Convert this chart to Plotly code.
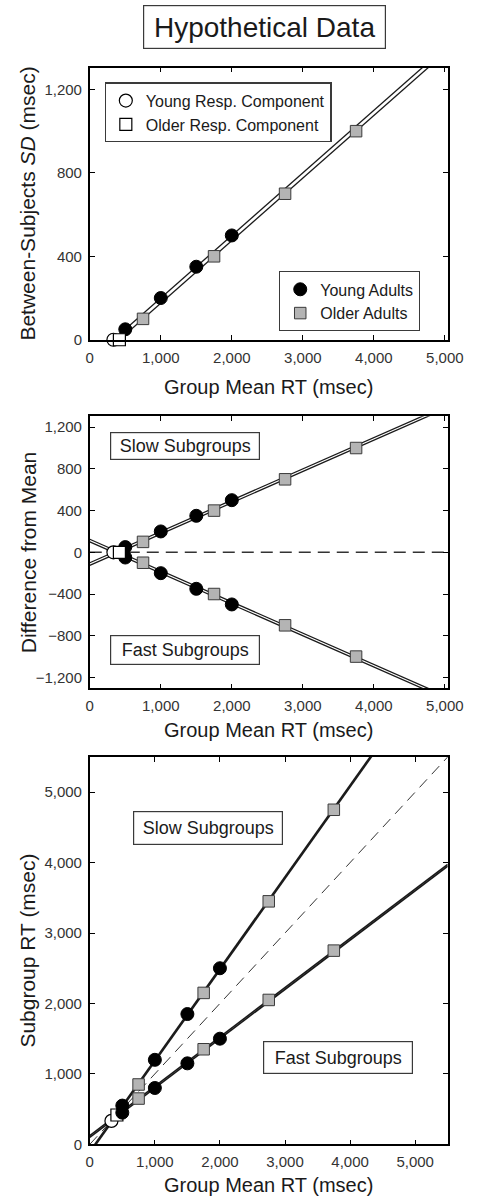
import numpy as np
import plotly.graph_objects as go

# ---- data -------------------------------------------------------------
# response-component RTs (point where between-subjects SD reaches zero)
young_comp_rt = [333]
older_comp_rt = [417]

# group mean RTs and between-subjects SDs
young_rt = [500, 1000, 1500, 2000]
young_sd = [50, 200, 350, 500]
older_rt = [750, 1750, 2750, 3750]
older_sd = [100, 400, 700, 1000]

# subgroup mean RTs (slow = mean + SD, fast = mean - SD)
young_slow = [550, 1200, 1850, 2500]
young_fast = [450, 800, 1150, 1500]
older_slow = [850, 2150, 3450, 4750]
older_fast = [650, 1350, 2050, 2750]

x_ticks_top = [0, 1000, 2000, 3000, 4000, 5000]
y_ticks_sd = [0, 400, 800, 1200]
y_ticks_diff = [-1200, -800, -400, 0, 400, 800, 1200]
y_ticks_rt = [0, 1000, 2000, 3000, 4000, 5000]

# ---- derived quantities ----------------------------------------------
young_diff_slow = np.subtract(young_slow, young_rt)
young_diff_fast = np.subtract(young_fast, young_rt)
older_diff_slow = np.subtract(older_slow, older_rt)
older_diff_fast = np.subtract(older_fast, older_rt)

# linear SD-vs-RT functions through the component point and group points
young_fit = np.polyfit(young_comp_rt + young_rt, [0] + young_sd, 1)
older_fit = np.polyfit(older_comp_rt + older_rt, [0] + older_sd, 1)
line_x = np.array([0.0, 5500.0])
young_line = np.polyval(young_fit, line_x)
older_line = np.polyval(older_fit, line_x)

# ---- styles ----------------------------------------------------------
FONT = "Liberation Sans, Arial, sans-serif"
INK = "#1a1a1a"
GRAY_FILL = "#b4b4b4"
LINE_W = 1.3

young_marker = dict(symbol="circle", size=13, color="black",
                    line=dict(color="black", width=1))
older_marker = dict(symbol="square", size=11.5, color=GRAY_FILL,
                    line=dict(color="#3a3a3a", width=1))
young_comp_marker = dict(symbol="circle", size=13, color="white",
                         line=dict(color="black", width=1.2))
older_comp_marker = dict(symbol="square", size=12, color="white",
                         line=dict(color="black", width=1.2))

W, H = 480, 1204
X0, X1 = 89.5 / W, 463 / W


def ydom(top_px, bot_px):
    return [1 - bot_px / H, 1 - top_px / H]


fig = go.Figure()


def line(x, y, ax, width=LINE_W, color=INK, dash=None):
    fig.add_trace(go.Scatter(
        x=x, y=y, mode="lines", xaxis=ax[0], yaxis=ax[1],
        line=dict(color=color, width=width, dash=dash),
        showlegend=False, hoverinfo="skip"))


def pts(x, y, ax, marker, name=None, legend=None):
    fig.add_trace(go.Scatter(
        x=x, y=y, mode="markers", xaxis=ax[0], yaxis=ax[1],
        marker=marker, name=name or "", showlegend=legend is not None,
        legend=legend or "legend", cliponaxis=False))


# ---- panel 1: between-subjects SD ------------------------------------
ax1 = ("x", "y")
line(line_x, young_line, ax1)
line(line_x, older_line, ax1)
pts(young_rt, young_sd, ax1, young_marker, "Young Adults", "legend2")
pts(older_rt, older_sd, ax1, older_marker, "Older Adults", "legend2")
pts(young_comp_rt, [0], ax1, young_comp_marker, "Young Resp. Component", "legend")
pts(older_comp_rt, [0], ax1, older_comp_marker, "Older Resp. Component", "legend")

# ---- panel 2: difference from mean -----------------------------------
ax2 = ("x2", "y2")
line(line_x, young_line, ax2)
line(line_x, older_line, ax2)
line(line_x, -young_line, ax2)
line(line_x, -older_line, ax2)
pts(young_rt, young_diff_slow, ax2, young_marker)
pts(young_rt, young_diff_fast, ax2, young_marker)
pts(older_rt, older_diff_slow, ax2, older_marker)
pts(older_rt, older_diff_fast, ax2, older_marker)
pts(young_comp_rt, [0], ax2, young_comp_marker)
pts(older_comp_rt, [0], ax2, older_comp_marker)
fig.add_shape(type="line", xref="x2 domain", yref="y2", x0=0, x1=1, y0=0, y1=0,
              line=dict(color="#333333", width=1.6, dash="12px,7px"), layer="below")

# ---- panel 3: subgroup RTs -------------------------------------------
ax3 = ("x3", "y3")
line(line_x, line_x, ax3, width=1.0, color="#333333", dash="11px,7px")
line(line_x, line_x + young_line, ax3, width=1.6)
line(line_x, line_x + older_line, ax3, width=1.6)
line(line_x, line_x - young_line, ax3, width=1.6)
line(line_x, line_x - older_line, ax3, width=1.6)
pts(young_comp_rt, young_comp_rt, ax3, young_comp_marker)
pts(older_comp_rt, older_comp_rt, ax3, older_comp_marker)
pts(young_rt, young_slow, ax3, young_marker)
pts(young_rt, young_fast, ax3, young_marker)
pts(older_rt, older_slow, ax3, older_marker)
pts(older_rt, older_fast, ax3, older_marker)

# ---- axes ------------------------------------------------------------
common = dict(showgrid=False, zeroline=False, showline=True, linecolor="black",
              linewidth=1.6, mirror="ticks", ticks="inside", ticklen=5,
              tickwidth=1.4, tickcolor="black", separatethousands=True,
              ticklabelstandoff=3,
              tickfont=dict(family=FONT, size=15, color="#333333"))

fig.update_layout(
    xaxis=dict(common, domain=[X0, X1], range=[0, 5040], tickvals=x_ticks_top,
               anchor="y"),
    yaxis=dict(common, domain=ydom(68, 342), range=[0, 1305], tickvals=y_ticks_sd,
               anchor="x"),
    xaxis2=dict(common, domain=[X0, X1], range=[0, 5040], tickvals=x_ticks_top,
                anchor="y2"),
    yaxis2=dict(common, domain=ydom(419, 693), range=[-1305, 1305],
                tickvals=y_ticks_diff, anchor="x2"),
    xaxis3=dict(common, domain=[X0, X1], range=[0, 5500], tickvals=y_ticks_rt,
                anchor="y3"),
    yaxis3=dict(common, domain=ydom(762, 1152), range=[0, 5500],
                tickvals=y_ticks_rt, anchor="x3"),
)

# ---- text: title, axis titles, subgroup labels -----------------------
def note(text, xc, yc, size, angle=0, box=None, color=INK):
    a = dict(text=text, xref="paper", yref="paper", x=xc / W, y=1 - yc / H,
             xanchor="center", yanchor="middle", showarrow=False,
             textangle=angle, font=dict(family=FONT, size=size, color=color))
    if box:
        a.update(bordercolor="#3a3a3a", borderwidth=1.2, bgcolor="white",
                 width=box[0], height=box[1], borderpad=box[2])
    fig.add_annotation(**a)


cx = (89.5 + 463) / 2
note("Hypothetical Data", 271.5, 27, 28, box=(233, 34, 4))

note("Group Mean RT (msec)", cx, 390, 20)
note("Group Mean RT (msec)", cx, 735, 20)
note("Group Mean RT (msec)", cx, 1193, 20)

note("Between-Subjects <i>SD</i> (msec)", 25, 205, 21, angle=-90)
note("Difference from Mean", 25, 556, 21, angle=-90)
note("Subgroup RT (msec)", 25, 957, 21, angle=-90)

note("Slow Subgroups", 189, 449, 18, box=(144, 22, 2))
note("Fast Subgroups", 189, 654, 18, box=(144, 24, 2))
note("Slow Subgroups", 212.5, 834, 18, box=(140, 24, 4))
note("Fast Subgroups", 348, 1064.5, 18, box=(140, 23, 4))

legend_common = dict(xanchor="left", yanchor="top", bgcolor="white",
                     bordercolor="#3a3a3a", borderwidth=1.2, itemwidth=30,
                     tracegroupgap=0, font=dict(family=FONT, size=16, color=INK))

fig.update_layout(
    width=W, height=H,
    margin=dict(l=0, r=0, t=0, b=0),
    paper_bgcolor="white", plot_bgcolor="white",
    font=dict(family=FONT, color=INK),
    legend=dict(legend_common, x=105 / W, y=1 - 83 / H),
    legend2=dict(legend_common, x=287 / W, y=1 - 273 / H),
)

fig.write_html("out.html")
